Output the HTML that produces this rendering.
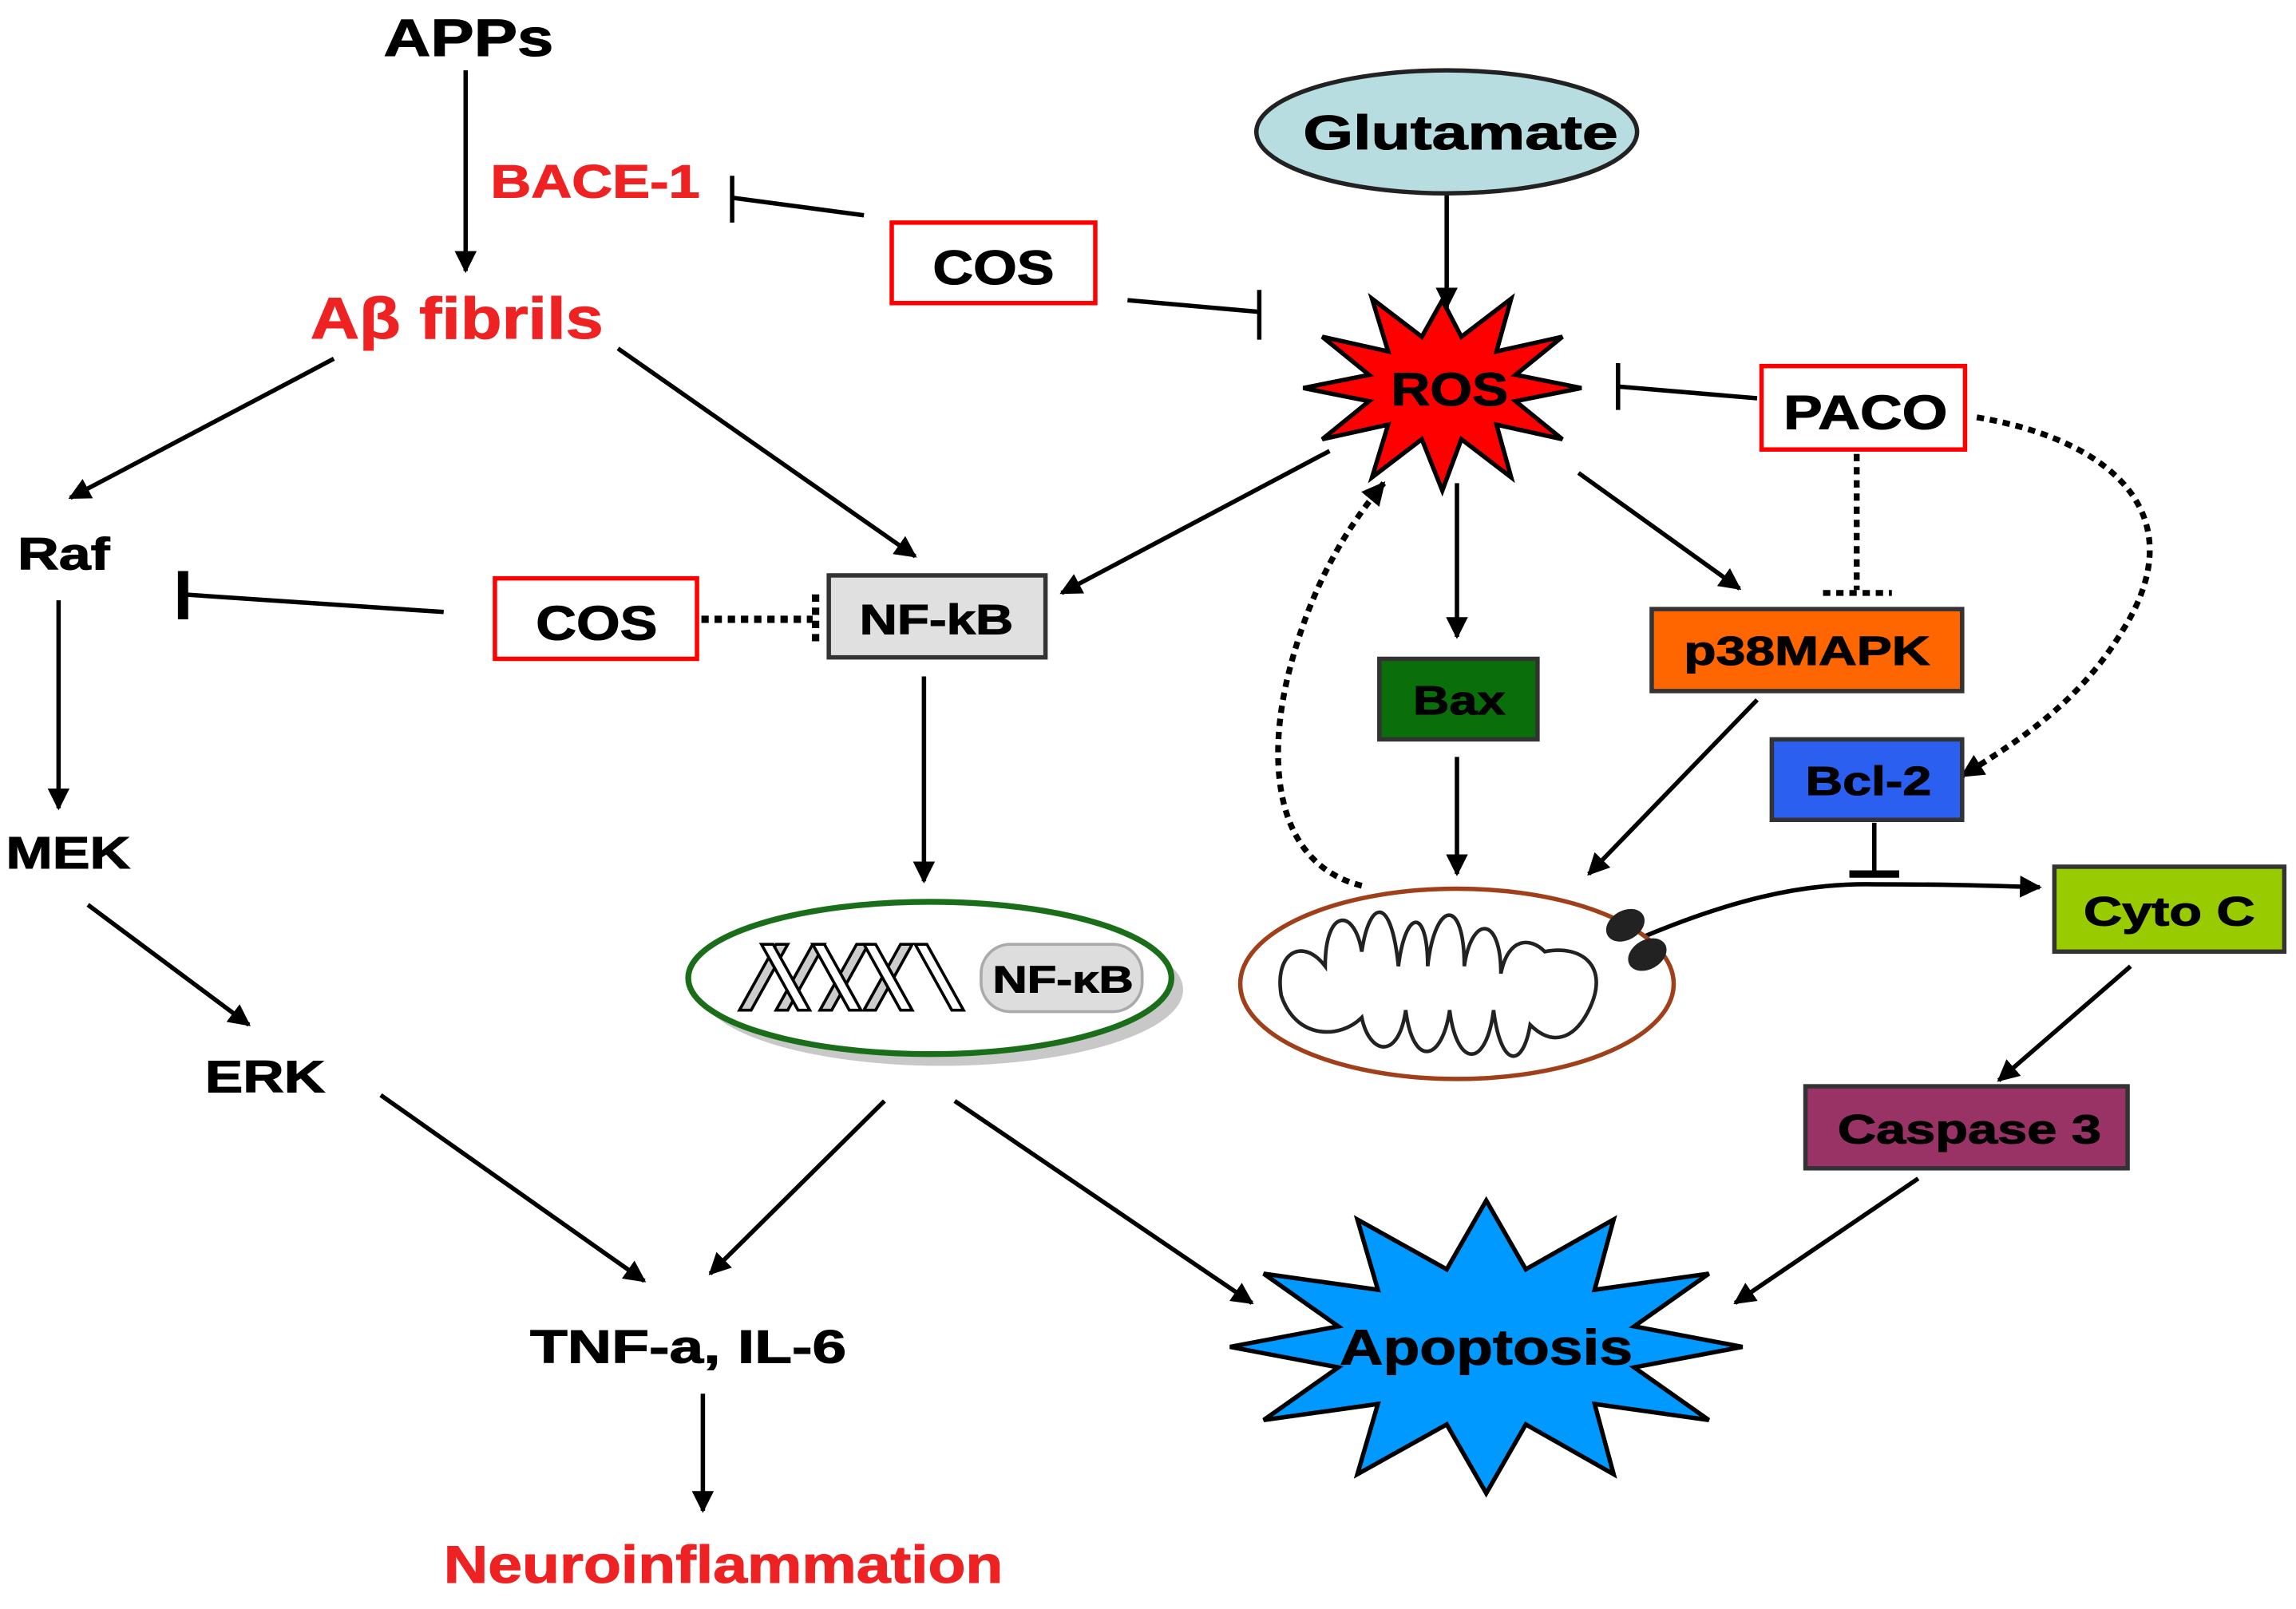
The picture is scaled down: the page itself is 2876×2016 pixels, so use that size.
<!DOCTYPE html>
<html><head><meta charset="utf-8"><style>
html,body{margin:0;padding:0;background:#fff;}
svg{display:block;}
text{font-family:"Liberation Sans",Arial,sans-serif;font-weight:bold;stroke:currentColor;stroke-width:0.6;}
</style></head><body>
<svg width="2876" height="2016" viewBox="0 0 1568 1099" xmlns="http://www.w3.org/2000/svg">
<defs>
<marker id="a" viewBox="0 0 10 10" refX="9" refY="5" markerWidth="5" markerHeight="5" orient="auto" markerUnits="strokeWidth"><path d="M0,0 L10,5 L0,10 z" fill="#000"/></marker>
<marker id="b" viewBox="0 0 10 10" refX="9" refY="5" markerWidth="4" markerHeight="4" orient="auto" markerUnits="strokeWidth"><path d="M0,0 L10,5 L0,10 z" fill="#000"/></marker>
</defs>
<rect width="1568" height="1099" fill="#fff"/>
<g stroke="#000" stroke-width="3" fill="none">
<line x1="318" y1="48" x2="318" y2="185" marker-end="url(#a)"/>
<line x1="590" y1="147" x2="500" y2="135"/>
<line x1="500" y1="120" x2="500" y2="152"/>
<line x1="770" y1="205" x2="860" y2="213"/>
<line x1="860" y1="198" x2="860" y2="232"/>
<line x1="228" y1="245" x2="48" y2="340" marker-end="url(#a)"/>
<line x1="422" y1="238" x2="625" y2="380" marker-end="url(#a)"/>
<line x1="303" y1="418" x2="125" y2="406"/>
<line x1="125" y1="390" x2="125" y2="423" stroke-width="7"/>
<line x1="479" y1="423" x2="555" y2="423" stroke-dasharray="5,4" stroke-width="5"/>
<line x1="557" y1="406" x2="557" y2="440" stroke-dasharray="5,4" stroke-width="5"/>
<line x1="631" y1="462" x2="631" y2="602" marker-end="url(#a)"/>
<line x1="40" y1="410" x2="40" y2="552" marker-end="url(#a)"/>
<line x1="60" y1="618" x2="170" y2="700" marker-end="url(#a)"/>
<line x1="260" y1="748" x2="440" y2="875" marker-end="url(#a)"/>
<line x1="604" y1="752" x2="485" y2="870" marker-end="url(#a)"/>
<line x1="652" y1="752" x2="855" y2="890" marker-end="url(#a)"/>
<line x1="480" y1="952" x2="480" y2="1032" marker-end="url(#a)"/>
<line x1="988" y1="132" x2="988" y2="210" marker-end="url(#a)"/>
<line x1="1200" y1="272" x2="1105" y2="264"/>
<line x1="1105" y1="248" x2="1105" y2="280"/>
<line x1="1268" y1="310" x2="1268" y2="403" stroke-dasharray="5,4" stroke-width="4"/>
<line x1="1245" y1="405" x2="1292" y2="405" stroke-dasharray="5,4" stroke-width="4"/>
<path d="M1350,285 C1440,300 1500,350 1450,430 C1420,480 1380,505 1340,530" stroke-dasharray="5,4" stroke-width="4" marker-end="url(#b)"/>
<line x1="908" y1="308" x2="725" y2="405" marker-end="url(#a)"/>
<line x1="995" y1="330" x2="995" y2="435" marker-end="url(#a)"/>
<line x1="1078" y1="323" x2="1188" y2="402" marker-end="url(#a)"/>
<line x1="995" y1="517" x2="995" y2="597" marker-end="url(#a)"/>
<line x1="1200" y1="478" x2="1085" y2="597" marker-end="url(#a)"/>
<path d="M930,605 C870,590 865,520 880,460 C895,400 920,360 945,330" stroke-dasharray="5,4" stroke-width="4" marker-end="url(#b)"/>
<line x1="1280" y1="562" x2="1280" y2="595"/>
<line x1="1263" y1="597" x2="1297" y2="597" stroke-width="5"/>
<path d="M1115,643 C1180,615 1230,603 1280,604 C1330,604 1360,605 1393,606" marker-end="url(#a)"/>
<line x1="1455" y1="660" x2="1365" y2="738" marker-end="url(#a)"/>
<line x1="1310" y1="805" x2="1185" y2="890" marker-end="url(#a)"/>
</g>
<rect x="609" y="152" width="139" height="55" fill="#fff" stroke="#f00" stroke-width="3"/>
<text x="637" y="194" font-size="33" textLength="83" lengthAdjust="spacingAndGlyphs">COS</text>
<rect x="338" y="395" width="138" height="55" fill="#fff" stroke="#f00" stroke-width="3"/>
<text x="366" y="437" font-size="33" textLength="83" lengthAdjust="spacingAndGlyphs">COS</text>
<rect x="566" y="393" width="148" height="56" fill="#e0e0e0" stroke="#333" stroke-width="3"/>
<text x="587" y="433" font-size="29" textLength="105" lengthAdjust="spacingAndGlyphs">NF-kB</text>
<rect x="1203" y="250" width="139" height="57" fill="#fff" stroke="#f00" stroke-width="3"/>
<text x="1218" y="293" font-size="33" textLength="112" lengthAdjust="spacingAndGlyphs">PACO</text>
<rect x="942" y="450" width="108" height="55" fill="#0a6e0a" stroke="#333" stroke-width="3"/>
<text x="965" y="488" font-size="28" textLength="63" lengthAdjust="spacingAndGlyphs">Bax</text>
<rect x="1128" y="416" width="212" height="56" fill="#ff6600" stroke="#333" stroke-width="3"/>
<text x="1150" y="454" font-size="28" textLength="168" lengthAdjust="spacingAndGlyphs">p38MAPK</text>
<rect x="1210" y="505" width="130" height="55" fill="#2a5ff0" stroke="#333" stroke-width="3"/>
<text x="1233" y="543" font-size="28" textLength="86" lengthAdjust="spacingAndGlyphs">Bcl-2</text>
<rect x="1403" y="592" width="157" height="58" fill="#99cc00" stroke="#333" stroke-width="3"/>
<text x="1423" y="632" font-size="28" textLength="117" lengthAdjust="spacingAndGlyphs">Cyto C</text>
<rect x="1233" y="742" width="220" height="56" fill="#993366" stroke="#333" stroke-width="3"/>
<text x="1255" y="781" font-size="28" textLength="180" lengthAdjust="spacingAndGlyphs">Caspase 3</text>
<ellipse cx="988" cy="90" rx="130" ry="42" fill="#b7dde0" stroke="#222" stroke-width="3"/>
<text x="890" y="102" font-size="33" textLength="215" lengthAdjust="spacingAndGlyphs">Glutamate</text>
<polygon points="1080,265 1035,274 1067,300 1022,290 1032,326 998,300 985,335 971,300 937,326 948,290 903,300 935,274 890,265 935,256 903,230 948,240 937,204 971,230 985,205 998,230 1032,204 1022,240 1067,230 1035,256" fill="#f00" stroke="#000" stroke-width="3"/>
<text x="950" y="277" font-size="32" textLength="80" lengthAdjust="spacingAndGlyphs">ROS</text>
<polygon points="1190,920 1116,934 1167,970 1089,959 1102,1007 1042,973 1015,1020 988,973 927,1007 941,959 863,970 914,934 840,920 914,906 863,870 941,881 927,833 988,867 1015,820 1042,867 1102,833 1089,881 1167,870 1116,906" fill="#0099ff" stroke="#000" stroke-width="3"/>
<text x="915" y="932" font-size="34" textLength="200" lengthAdjust="spacingAndGlyphs">Apoptosis</text>
<ellipse cx="643" cy="676" rx="165" ry="52" fill="#c8c8c8"/>
<ellipse cx="635" cy="668" rx="165" ry="52" fill="#fff" stroke="#1a6e1a" stroke-width="4"/>
<g stroke="#000" stroke-width="2" fill="#ccc">
<path d="M505,690 L530,645 L538,645 L513,690 z"/>
<path d="M530,690 L555,645 L563,645 L538,690 z"/>
<path d="M560,690 L585,645 L593,645 L568,690 z"/>
<path d="M590,690 L615,645 L623,645 L598,690 z"/>
<path d="M520,645 L545,690 L553,690 L528,645 z" fill="#fff"/>
<path d="M555,645 L580,690 L588,690 L563,645 z" fill="#fff"/>
<path d="M590,645 L615,690 L623,690 L598,645 z" fill="#fff"/>
<path d="M625,645 L650,690 L658,690 L633,645 z" fill="#fff"/>
</g>
<rect x="670" y="645" width="110" height="46" rx="20" fill="#ddd" stroke="#aaa" stroke-width="2"/>
<text x="678" y="678" font-size="26" textLength="96" lengthAdjust="spacingAndGlyphs">NF-κB</text>
<ellipse cx="995" cy="672" rx="148" ry="65" fill="#fff" stroke="#a0401a" stroke-width="3"/>
<path d="M875,680 C870,650 890,640 905,660 C905,620 925,620 930,650 C935,615 950,610 955,660 C960,620 975,620 975,660 C980,615 1000,612 1000,660 C1005,625 1025,625 1025,665 C1030,640 1045,640 1055,650 C1080,645 1100,660 1085,690 C1075,710 1060,715 1045,700 C1040,730 1025,730 1020,690 C1015,730 995,730 990,690 C985,725 965,730 960,690 C955,725 935,720 930,695 C915,710 885,710 875,680 z" fill="none" stroke="#222" stroke-width="2.5"/>
<ellipse cx="1110" cy="632" rx="14" ry="10" fill="#222" transform="rotate(-30 1110 632)"/>
<ellipse cx="1125" cy="652" rx="14" ry="10" fill="#222" transform="rotate(-30 1125 652)"/>
<text x="262" y="38" font-size="36" textLength="116" lengthAdjust="spacingAndGlyphs">APPs</text>
<text x="335" y="135" font-size="32" fill="#ee2222" color="#ee2222" textLength="143" lengthAdjust="spacingAndGlyphs">BACE-1</text>
<text x="212" y="231" font-size="40" fill="#ee2222" color="#ee2222" textLength="200" lengthAdjust="spacingAndGlyphs">Aβ fibrils</text>
<text x="12" y="389" font-size="31" textLength="63" lengthAdjust="spacingAndGlyphs">Raf</text>
<text x="4" y="593" font-size="31" textLength="85" lengthAdjust="spacingAndGlyphs">MEK</text>
<text x="140" y="746" font-size="31" textLength="82" lengthAdjust="spacingAndGlyphs">ERK</text>
<text x="362" y="931" font-size="32" textLength="216" lengthAdjust="spacingAndGlyphs">TNF-a, IL-6</text>
<text x="303" y="1081" font-size="36" fill="#ee2222" color="#ee2222" textLength="382" lengthAdjust="spacingAndGlyphs">Neuroinflammation</text>
</svg>
</body></html>
